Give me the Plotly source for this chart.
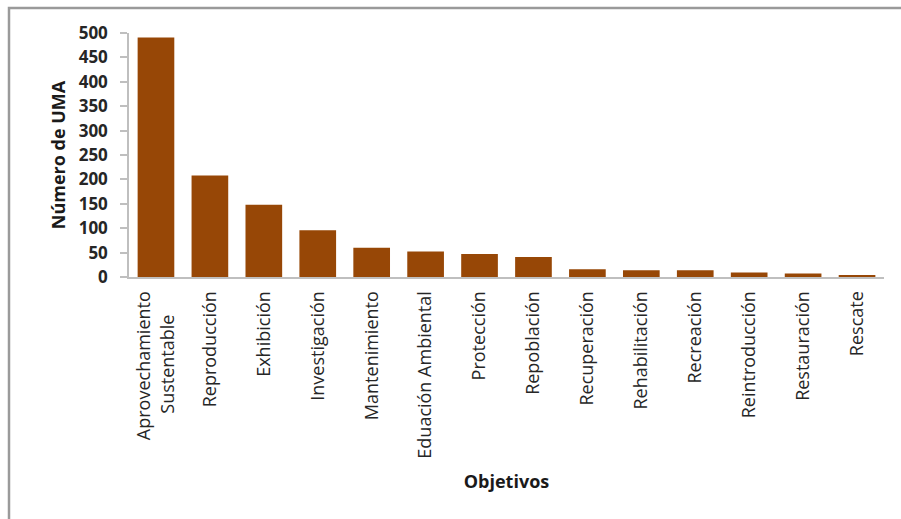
import plotly.graph_objects as go

# Objetivos de las UMA y número de unidades registradas por objetivo
objetivos = [
    "Aprovechamiento<br>Sustentable" + "\u00a0" * 5, "Reproducción", "Exhibición", "Investigación",
    "Mantenimiento", "Eduación Ambiental", "Protección", "Repoblación",
    "Recuperación", "Rehabilitación", "Recreación", "Reintroducción",
    "Restauración", "Rescate",
]
num_uma = [491, 208, 148, 96, 60, 52, 47, 41, 16, 14, 14, 9, 7, 4]
y_ticks = [0, 50, 100, 150, 200, 250, 300, 350, 400, 450, 500]

BAR = "#974706"
AXIS = "#bfbfbf"
FONT = "Open Sans"

fig = go.Figure(
    go.Bar(x=objetivos, y=num_uma, marker=dict(color=BAR, line=dict(width=0)))
)

W, H = 901, 519
ml, mr, mt, mb = 129, 17, 33, 242
fig.update_layout(
    width=W, height=H,
    margin=dict(l=ml, r=mr, t=mt, b=mb, pad=0),
    paper_bgcolor="white", plot_bgcolor="white",
    bargap=0.32,
    showlegend=False,
    font=dict(family=FONT, color="#262626"),
)
fig.update_xaxes(
    type="category",
    tickangle=-90,
    tickfont=dict(family=FONT, size=18, color="#262626"),
    showline=True, linecolor=AXIS, linewidth=2,
    ticks="", showgrid=False,
    ticklabelstandoff=5,
    title=dict(text="Objetivos", font=dict(family=FONT, size=18, color="#1a1a1a", weight="bold"), standoff=18),
)
fig.update_yaxes(
    range=[0, 500],
    tickvals=y_ticks,
    tickfont=dict(family=FONT, size=17, color="#262626", weight="bold"),
    showline=True, linecolor=AXIS, linewidth=1.5,
    ticks="outside", ticklen=7, tickcolor=AXIS, tickwidth=1.5,
    ticklabelstandoff=9,
    showgrid=False, zeroline=False,
    title=dict(text="Número de UMA", font=dict(family=FONT, size=18, color="#1a1a1a", weight="bold"), standoff=8),
)

# gray frame around the chart area (left and top edges visible)
pw, ph = W - ml - mr, H - mt - mb
fx0 = (9 - ml) / pw
fy1 = 1 + (mt - 8) / ph
fig.add_shape(type="rect", xref="paper", yref="paper",
              x0=fx0, x1=1.2, y0=-1.5, y1=fy1,
              line=dict(color="#9a9a9a", width=2.5), layer="below")

fig.write_html("out.html")
